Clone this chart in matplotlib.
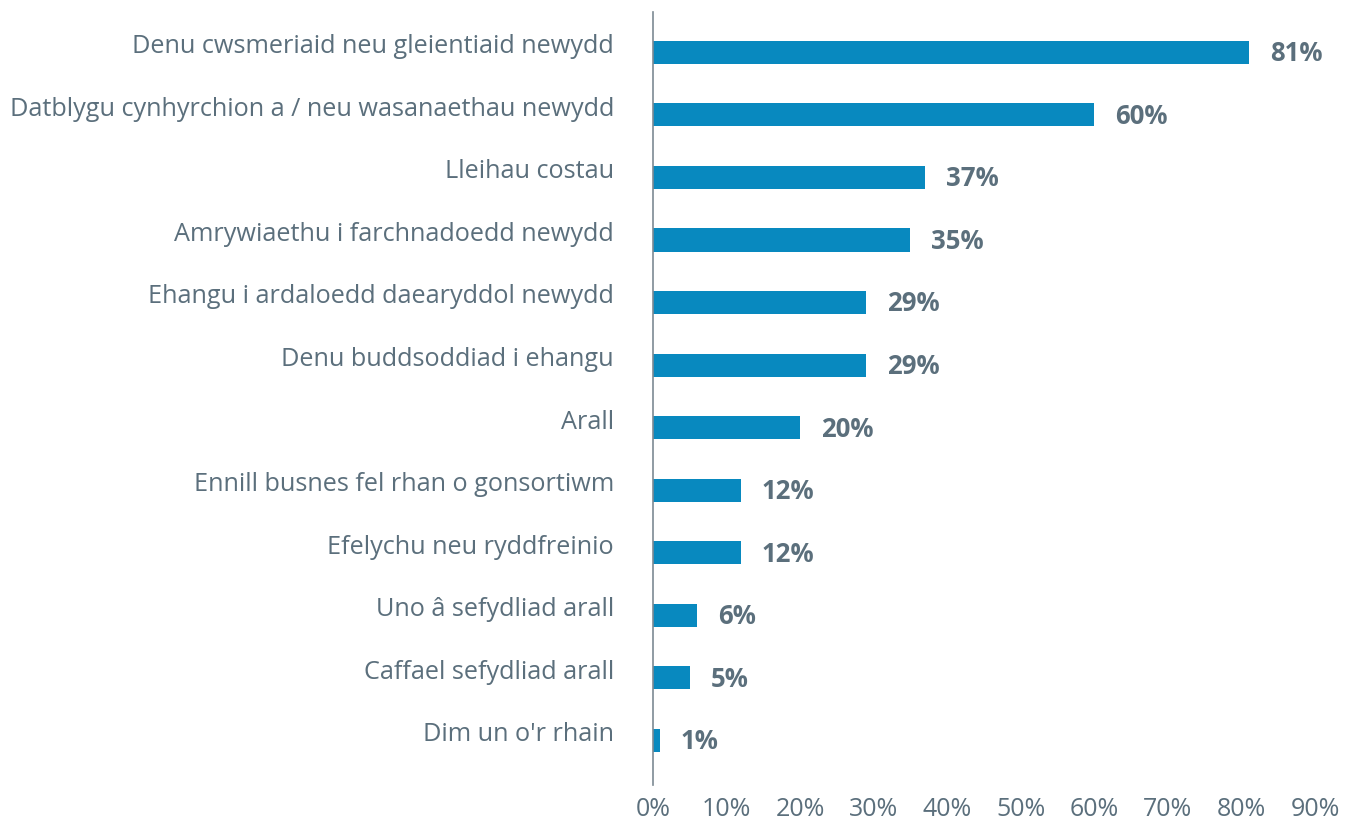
import matplotlib
matplotlib.use("Agg")
import matplotlib.pyplot as plt
from matplotlib.ticker import FuncFormatter

plt.rcParams['font.family'] = ['Open Sans', 'DejaVu Sans']

categories = [
    "Denu cwsmeriaid neu gleientiaid newydd",
    "Datblygu cynhyrchion a / neu wasanaethau newydd",
    "Lleihau costau",
    "Amrywiaethu i farchnadoedd newydd",
    "Ehangu i ardaloedd daearyddol newydd",
    "Denu buddsoddiad i ehangu",
    "Arall",
    "Ennill busnes fel rhan o gonsortiwm",
    "Efelychu neu ryddfreinio",
    "Uno â sefydliad arall",
    "Caffael sefydliad arall",
    "Dim un o'r rhain",
]
values = [81, 60, 37, 35, 29, 29, 20, 12, 12, 6, 5, 1]
x_ticks = list(range(0, 100, 10))

bar_color = "#0889bf"
text_color = "#5b6f7c"

fig = plt.figure(figsize=(13.46, 8.19), dpi=100)
ax = fig.add_axes([0.485, 0.041, 0.492, 0.944])

y = list(range(len(categories)))
ax.barh(y, values, height=0.37, color=bar_color)

for yi, v in zip(y, values):
    ax.annotate(f"{v}%", (v, yi), xytext=(15, -1), textcoords="offset points",
                ha="left", va="center", fontsize=18.5, fontweight="bold",
                color=text_color)

# category names sit slightly above the bar centres
for yi, name in zip(y, categories):
    ax.annotate(name, (0, yi), xycoords=("axes fraction", "data"),
                xytext=(-28, 4), textcoords="offset points",
                ha="right", va="center", fontsize=18.2, color=text_color)

ax.set_yticks([])
ax.tick_params(axis="x", length=0, pad=8, labelsize=18, labelcolor=text_color)

ax.set_xlim(0, 90)
ax.set_xticks(x_ticks)
ax.xaxis.set_major_formatter(FuncFormatter(lambda v, p: f"{int(v)}%"))
ax.set_ylim(11.72, -0.64)

for side in ["top", "right", "bottom"]:
    ax.spines[side].set_visible(False)
ax.spines["left"].set_color("#7d8a93")
ax.spines["left"].set_linewidth(1.2)

fig.savefig("out.png", dpi=100)
